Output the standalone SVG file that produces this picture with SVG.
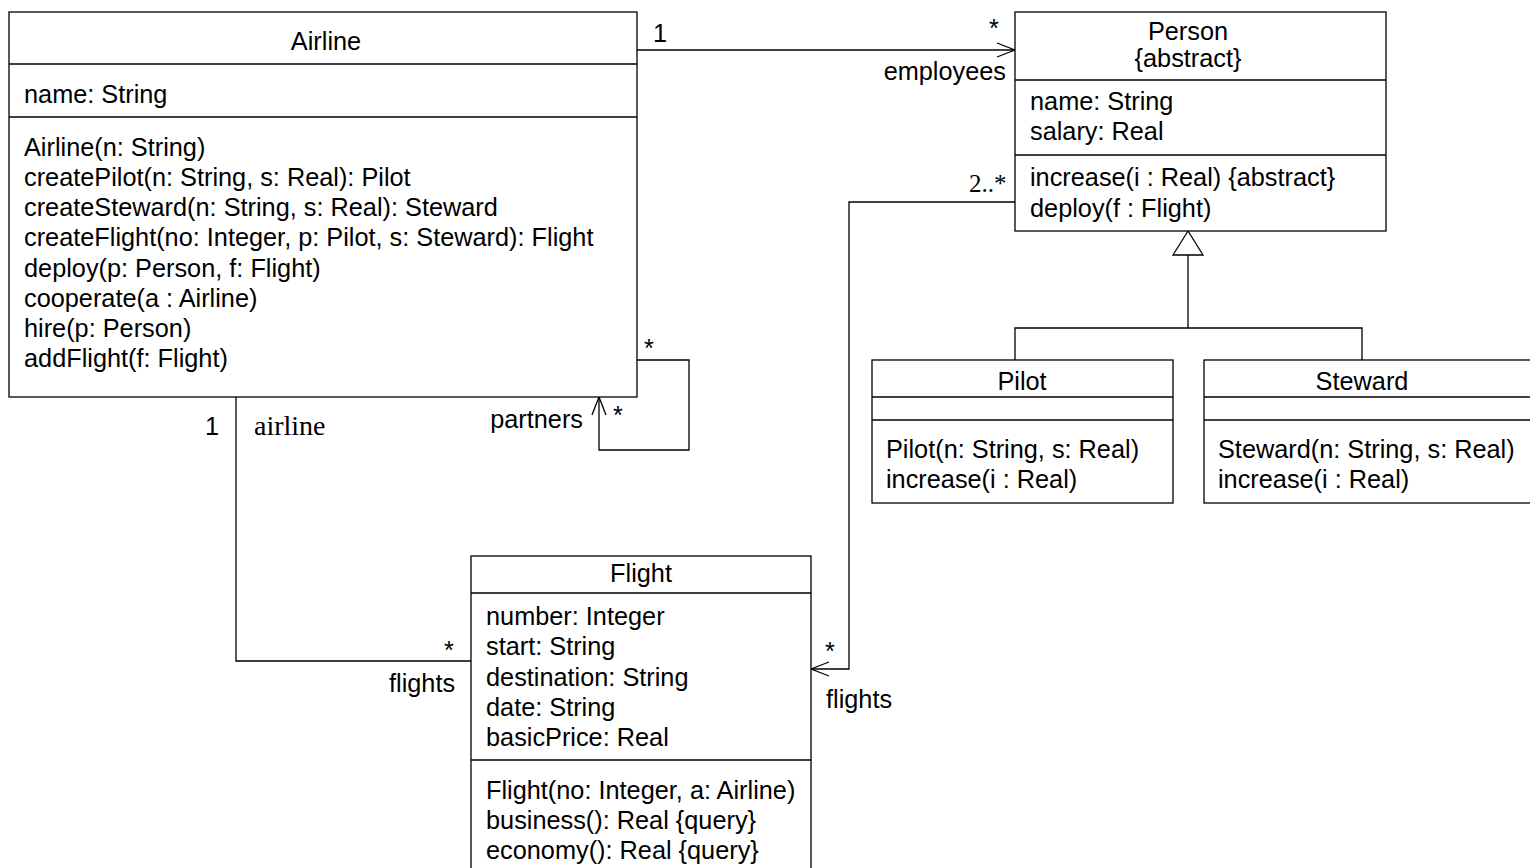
<svg xmlns="http://www.w3.org/2000/svg" width="1530" height="868" viewBox="0 0 1530 868">
<style>
.b{fill:#fff;stroke:#000;stroke-width:1.3}
.l{fill:none;stroke:#000;stroke-width:1.3}
text{font-family:"Liberation Sans",Arial,sans-serif;font-size:25.3px;fill:#000}
.c{text-anchor:middle}
.r{text-anchor:end}
.s{font-family:"Liberation Serif","Times New Roman",serif}
</style>
<defs>
<marker id="open" viewBox="0 0 20 16" refX="19" refY="8" markerWidth="20" markerHeight="16" markerUnits="userSpaceOnUse" orient="auto">
<path d="M1,1 L19,8 L1,15" fill="none" stroke="#000" stroke-width="1.3"/>
</marker>
</defs>
<g id="connectors">
<line class="l" x1="637" y1="50" x2="1015" y2="50" marker-end="url(#open)"/>
<polyline class="l" points="637,360 689,360 689,450 599,450 599,397" marker-end="url(#open)"/>
<polyline class="l" points="236,397 236,661 471,661"/>
<polyline class="l" points="1015,202 849,202 849,669 811,669" marker-end="url(#open)"/>
<polygon class="b" points="1188,231 1173,255 1203,255"/>
<polyline class="l" points="1188,255 1188,328"/>
<polyline class="l" points="1015,360 1015,328 1362,328 1362,360"/>
<text x="653" y="42">1</text>
<text x="989" y="37">*</text>
<text class="r" x="1006" y="80">employees</text>
<text x="644" y="357">*</text>
<text x="613" y="424">*</text>
<text class="r" x="583" y="428">partners</text>
<text x="205" y="435">1</text>
<text class="s" x="254" y="435" style="font-size:28px">airline</text>
<text x="444" y="659">*</text>
<text x="389" y="692">flights</text>
<text class="s" x="969" y="192" style="font-size:25px">2..*</text>
<text x="825" y="660">*</text>
<text x="826" y="708">flights</text>
</g>
<g id="airline">
<rect class="b" x="9" y="12" width="628" height="385"/>
<line class="l" x1="9" y1="64" x2="637" y2="64"/>
<line class="l" x1="9" y1="117" x2="637" y2="117"/>
<text class="c" x="326" y="50">Airline</text>
<text x="24" y="103">name: String</text>
<text x="24" y="156">Airline(n: String)</text>
<text x="24" y="186">createPilot(n: String, s: Real): Pilot</text>
<text x="24" y="216">createSteward(n: String, s: Real): Steward</text>
<text x="24" y="246">createFlight(no: Integer, p: Pilot, s: Steward): Flight</text>
<text x="24" y="277">deploy(p: Person, f: Flight)</text>
<text x="24" y="307">cooperate(a : Airline)</text>
<text x="24" y="337">hire(p: Person)</text>
<text x="24" y="367">addFlight(f: Flight)</text>
</g>
<g id="person">
<rect class="b" x="1015" y="12" width="371" height="219"/>
<line class="l" x1="1015" y1="80" x2="1386" y2="80"/>
<line class="l" x1="1015" y1="155" x2="1386" y2="155"/>
<text class="c" x="1188" y="40">Person</text>
<text class="c" x="1188" y="67">{abstract}</text>
<text x="1030" y="110">name: String</text>
<text x="1030" y="140">salary: Real</text>
<text x="1030" y="186">increase(i : Real) {abstract}</text>
<text x="1030" y="217">deploy(f : Flight)</text>
</g>
<g id="pilot">
<rect class="b" x="872" y="360" width="301" height="143"/>
<line class="l" x1="872" y1="397" x2="1173" y2="397"/>
<line class="l" x1="872" y1="420" x2="1173" y2="420"/>
<text class="c" x="1022" y="390">Pilot</text>
<text x="886" y="458">Pilot(n: String, s: Real)</text>
<text x="886" y="488">increase(i : Real)</text>
</g>
<g id="steward">
<rect class="b" x="1204" y="360" width="340" height="143"/>
<line class="l" x1="1204" y1="397" x2="1544" y2="397"/>
<line class="l" x1="1204" y1="420" x2="1544" y2="420"/>
<text class="c" x="1362" y="390">Steward</text>
<text x="1218" y="458">Steward(n: String, s: Real)</text>
<text x="1218" y="488">increase(i : Real)</text>
</g>
<g id="flight">
<rect class="b" x="471" y="556" width="340" height="330"/>
<line class="l" x1="471" y1="593" x2="811" y2="593"/>
<line class="l" x1="471" y1="760" x2="811" y2="760"/>
<text class="c" x="641" y="582">Flight</text>
<text x="486" y="625">number: Integer</text>
<text x="486" y="655">start: String</text>
<text x="486" y="686">destination: String</text>
<text x="486" y="716">date: String</text>
<text x="486" y="746">basicPrice: Real</text>
<text x="486" y="799">Flight(no: Integer, a: Airline)</text>
<text x="486" y="829">business(): Real {query}</text>
<text x="486" y="859">economy(): Real {query}</text>
</g>
</svg>
